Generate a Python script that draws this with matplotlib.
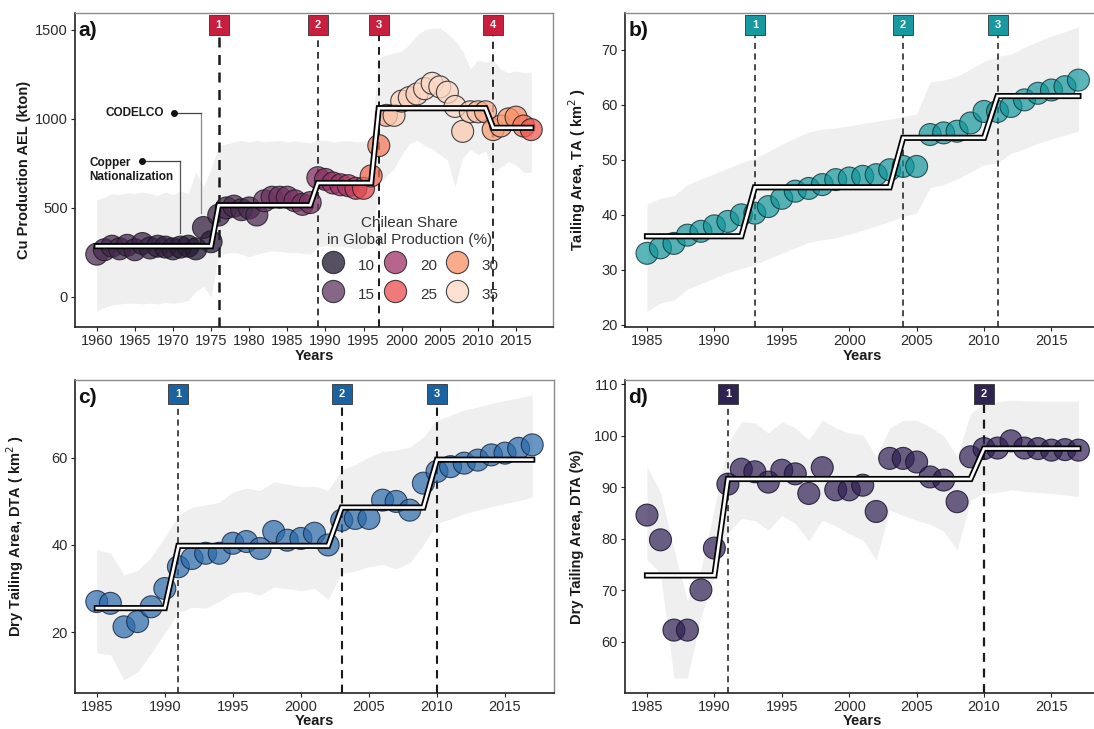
import numpy as np
import matplotlib
matplotlib.use('Agg')
import matplotlib.pyplot as plt
from matplotlib.colors import LinearSegmentedColormap, to_rgba
from matplotlib.lines import Line2D
import matplotlib.transforms as mtransforms

plt.rcParams['font.family'] = ['Liberation Sans', 'DejaVu Sans']

# ---------------- data ----------------
years_a = list(range(1960, 2018))
aer_a = [240, 265, 285, 270, 290, 265, 300, 275, 285, 280,
         270, 280, 285, 270, 390, 310, 460, 500, 510, 490,
         500, 460, 540, 560, 560, 560, 540, 520, 530, 670,
         660, 640, 630, 625, 610, 610, 680, 850, 1020, 1020,
         1100, 1120, 1140, 1170, 1200, 1180, 1150, 1070, 930, 1040,
         1040, 1040, 940, 960, 1000, 1010, 960, 940]
share_a = [14, 13.5, 13, 13, 13, 12.5, 12.5, 12, 12, 11.5,
           11.5, 11, 11, 10.5, 12, 11, 13, 13.5, 13.5, 13.5,
           13.5, 14, 15.5, 16, 16.5, 16.5, 17, 17, 17, 18,
           18.5, 19.5, 20, 21, 22, 24.5, 27, 28.5, 32, 34,
           34.5, 34.5, 34.5, 35.5, 37, 36, 35.5, 35.5, 34, 34,
           33.5, 32, 31, 31, 31, 30, 28, 26]
lo_a = [-80, -60, -45, -40, -35, -35, -40, -35, -40, -30,
        -35, -30, -20, 30, 60, 0, 240, 245, 250, 240,
        225, 240, 250, 260, 255, 250, 250, 245, 240, 280,
        290, 280, 285, 280, 270, 275, 300, 620, 680, 720,
        800, 860, 880, 850, 830, 800, 770, 620, 780, 830,
        800, 820, 700, 730, 760, 740, 700, 700]
hi_a = [545, 560, 580, 575, 585, 580, 590, 580, 570, 590,
        575, 595, 580, 700, 620, 720, 850, 860, 870, 880,
        870, 880, 870, 875, 880, 870, 875, 870, 865, 880,
        880, 870, 875, 880, 870, 875, 880, 1340, 1360, 1370,
        1380, 1420, 1470, 1500, 1510, 1510, 1480, 1440, 1380, 1280,
        1330, 1320, 1330, 1280, 1260, 1270, 1260, 1265]
breaks_a = [1976, 1989, 1997, 2012]
levels_a = [285, 515, 640, 1060, 950]

years_bcd = list(range(1985, 2018))
ta_b = [33, 34, 34.8, 36.3, 37, 38, 38.8, 40, 40.3, 41.5,
        43, 44.3, 44.8, 45.5, 46.4, 46.7, 47.0, 47.3, 48.2, 48.8,
        48.8, 54.6, 54.9, 55.2, 56.7, 58.8, 58.8, 59.7, 60.9, 62.1,
        62.7, 63.3, 64.5]
lo_b = [22.4, 24, 24.5, 26.5, 27.5, 28.5, 29.5, 30.2, 31, 32,
        33, 34, 35, 35.5, 35.8, 36.5, 37.2, 38, 38.8, 39.7,
        40.3, 44.9, 45.5, 46.5, 47.8, 49.1, 49.4, 51.2, 52, 53,
        53.8, 54.5, 55.2]
hi_b = [42, 43, 43.5, 45.5, 46.5, 47.5, 48.5, 49.5, 50.3, 51.5,
        52.8, 54, 55, 55.6, 55.8, 56.2, 56.6, 57, 57.4, 57.9,
        58.3, 64.2, 64.5, 65.2, 66.5, 67.9, 68.8, 69.2, 70.5, 71.5,
        72.5, 73.3, 74.2]
breaks_b = [1993, 2004, 2011]
levels_b = [36.1, 45.0, 54.0, 61.6]

dta_c = [27.0, 26.6, 21.2, 22.4, 25.8, 30.0, 35.0, 36.9, 38.1, 38.1,
         40.4, 40.8, 39.2, 43.1, 41.1, 41.5, 42.7, 40.0, 45.7, 46.1,
         46.1, 50.3, 50.0, 48.0, 54.2, 56.9, 58.0, 58.8, 59.5, 60.7,
         61.1, 62.2, 63.0]
lo_c = [15.2, 14.8, 9, 10.8, 15.2, 19.8, 24.5, 25.7, 25.5, 27,
        29, 29.3, 28.5, 30.3, 30, 29.5, 30, 27.5, 33.5, 34,
        35, 35.5, 34.5, 35.9, 40, 45, 46, 47.2, 48, 48.8,
        49.5, 50.2, 51]
hi_c = [38.9, 38.2, 33.1, 34.2, 37.2, 41.8, 46.9, 48.7, 49.2, 49.8,
        52.2, 53.1, 52.5, 54.5, 54, 53.4, 53.5, 52.6, 57.2, 58.5,
        60.2, 61.5, 61.8, 62.5, 64.8, 68.7, 69.8, 71, 71.7, 72.5,
        73.2, 73.8, 74.5]
breaks_c = [1991, 2003, 2010]
levels_c = [25.5, 39.8, 48.6, 59.6]

dta_d = [84.6, 79.8, 62.3, 62.3, 70.1, 78.2, 90.6, 93.5, 93.0, 91.0,
         93.3, 92.6, 88.8, 93.8, 89.5, 89.5, 90.4, 85.3, 95.6, 95.6,
         94.9, 92.0, 91.4, 87.2, 95.9, 97.5, 97.6, 99.0, 97.6, 97.5,
         97.2, 97.3, 97.2]
lo_d = [75.9, 73.3, 53, 53, 64.9, 72.7, 81.1, 84, 83.5, 81.7,
        84.5, 83, 79.6, 83.6, 82.5, 81, 79.8, 75.9, 85.6, 84.5,
        83.6, 82.8, 81.5, 77.8, 87.5, 88.8, 89, 89.5, 89.2, 89,
        88.8, 88.5, 88.2]
hi_d = [94, 89, 78, 68, 74, 86, 98.5, 102.7, 102.5, 100.5,
        102.7, 101.5, 99.2, 103, 101.5, 100.5, 100.2, 95.9, 101.5, 103,
        103, 101.7, 100, 95.9, 104.3, 106.3, 106.6, 106.9, 106.8, 106.7,
        106.7, 106.7, 106.7]
breaks_d = [1991, 2010]
levels_d = [72.9, 91.6, 97.5]

legend_shares = [10, 15, 20, 25, 30, 35]

# ---------------- helpers ----------------
share_cmap = LinearSegmentedColormap.from_list(
    'share', [(0.0, '#1d152e'), (0.2, '#5e3460'), (0.4, '#9f3166'),
              (0.6, '#ec4c4c'), (0.8, '#f78f64'), (1.0, '#fcd8c4')])


def share_color(v, alpha=0.75):
    r, g, b, _ = share_cmap((v - 10) / 25.0)
    return (r, g, b, alpha)


def fit_series(years, breaks, levels):
    out = []
    for y in years:
        idx = sum(1 for b in breaks if y >= b)
        out.append(levels[idx])
    return out


W, H = 1094, 729
fig = plt.figure(figsize=(W / 100, H / 100), dpi=100)


def px_rect(l, t, r, b):
    return [l / W, 1 - b / H, (r - l) / W, (b - t) / H]


def make_panel(rect, years, vals, lo, hi, breaks, levels, box_col, fcols,
               xlim, ylim, xticks, yticks, ylabel, letter, ylab_x, xlab_y,
               box_y, dash_lws, ecol):
    ax = fig.add_axes(rect)
    ax.fill_between(years, lo, hi, color='#EFEFEF', lw=0, zorder=0)
    trans = mtransforms.blended_transform_factory(ax.transData, ax.transAxes)
    for i, (bk, lw) in enumerate(zip(breaks, dash_lws)):
        ax.plot([bk, bk], [0, box_y], transform=trans, color='#1a1a1a',
                lw=lw, ls=(0, (4, 3)), zorder=2)
        ax.plot([bk], [box_y], transform=trans, marker='s', ms=14,
                mfc=box_col, mec='#333333', mew=0.6, clip_on=False, zorder=10)
        ax.text(bk, box_y, str(i + 1), transform=trans, color='white',
                fontsize=8, fontweight='bold', ha='center', va='center',
                zorder=11)
    ax.scatter(years, vals, s=250, c=fcols, edgecolors=ecol,
               linewidths=0.8, zorder=3)
    fit = fit_series(years, breaks, levels)
    ax.plot(years, fit, color='black', lw=4.4, zorder=5,
            solid_joinstyle='miter')
    ax.plot(years, fit, color='white', lw=1.9, zorder=6,
            solid_joinstyle='miter')
    ax.set_xlim(*xlim)
    ax.set_ylim(*ylim)
    ax.set_xticks(xticks)
    ax.set_yticks(yticks)
    for s in ['top', 'right']:
        ax.spines[s].set_color('#8a8a8a')
        ax.spines[s].set_linewidth(1.0)
    for s in ['left', 'bottom']:
        ax.spines[s].set_color('#222222')
        ax.spines[s].set_linewidth(1.2)
    ax.tick_params(axis='both', length=3, width=0.8, colors='#222222',
                   labelsize=10.5, labelcolor='#2a2a2a', pad=2)
    ax.set_ylabel(ylabel, fontsize=10.5, fontweight='bold', color='#1a1a1a')
    ax.yaxis.set_label_coords(ylab_x, 0.5)
    ax.set_xlabel('Years', fontsize=10.5, fontweight='bold', color='#1a1a1a')
    ax.xaxis.set_label_coords(0.5, xlab_y)
    ax.text(0.007, 0.945, letter, transform=ax.transAxes, fontsize=15,
            fontweight='bold', ha='left', va='center', color='#111111',
            zorder=12)
    return ax


# ---------------- panel a ----------------
ax_a = make_panel(px_rect(75, 13, 553, 327), years_a, aer_a, lo_a, hi_a,
                  breaks_a, levels_a, '#c91f3e',
                  [share_color(v) for v in share_a],
                  (1957.15, 2019.85), (-169, 1595),
                  list(range(1960, 2020, 5)), [0, 500, 1000, 1500],
                  'Cu Production AEL (kton)', 'a)', -0.092, -0.07, 0.962,
                  [1.8, 1.2, 1.4, 1.3], (0.1, 0.1, 0.12, 0.8))

# annotations
ax_a.plot([1973.7, 1973.7], [1034, 472], color='#8a8a8a', lw=0.9, zorder=2)
ax_a.plot([1970.1, 1973.7], [1034, 1034], color='#444444', lw=0.9, zorder=2)
ax_a.plot([1970.1], [1034], 'o', color='#111111', ms=4, zorder=7)
ax_a.text(1968.8, 1034, 'CODELCO', fontsize=8.5, fontweight='bold',
          ha='right', va='center', color='#1a1a1a')
ax_a.plot([1970.9, 1970.9], [764, 360], color='#555555', lw=0.9, zorder=2)
ax_a.plot([1966.0, 1970.9], [764, 764], color='#444444', lw=0.9, zorder=2)
ax_a.plot([1966.0], [764], 'o', color='#111111', ms=4, zorder=7)
ax_a.text(1959.0, 713, 'Copper\nNationalization', fontsize=8.5,
          fontweight='bold', ha='left', va='center', color='#1a1a1a',
          linespacing=1.25)

handles = [Line2D([], [], ls='', marker='o', ms=16,
                  mfc=share_color(v), mec=(0.1, 0.1, 0.12, 0.8), mew=0.8)
           for v in legend_shares]
leg = ax_a.legend(handles, [str(v) for v in legend_shares], ncol=3,
                  title='Chilean Share\nin Global Production (%)',
                  loc='upper center', bbox_to_anchor=(0.70, 0.372),
                  frameon=False, fontsize=11, title_fontsize=11,
                  handletextpad=0.85, columnspacing=0.5, labelspacing=0.5,
                  handleheight=1.8, borderaxespad=0, handlelength=1.6)
leg.get_title().set_color('#333333')
leg.get_title().set_multialignment('center')
for t in leg.get_texts():
    t.set_color('#333333')

# ---------------- panel b ----------------
make_panel(px_rect(625, 13, 1100, 327), years_bcd, ta_b, lo_b, hi_b,
           breaks_b, levels_b, '#17999f', [(0.055, 0.58, 0.6, 0.68)] * 33,
           (1983.37, 2018.6), (19.6, 76.7),
           list(range(1985, 2020, 5)), list(range(20, 80, 10)),
           r'Tailing Area, TA ( km$^2$ )', 'b)', -0.078, -0.07, 0.962,
           [1.1, 1.1, 1.1], (0.05, 0.2, 0.22, 0.8))

# ---------------- panel c ----------------
make_panel(px_rect(75, 380, 554, 693), years_bcd, dta_c, lo_c, hi_c,
           breaks_c, levels_c, '#1a62a0', [(0.165, 0.415, 0.67, 0.7)] * 33,
           (1983.4, 2018.6), (6, 77.9),
           list(range(1985, 2020, 5)), [20, 40, 60],
           r'Dry Tailing Area, DTA ( km$^2$ )', 'c)', -0.102, -0.068, 0.955,
           [1.1, 1.5, 1.5], (0.08, 0.14, 0.24, 0.8))

# ---------------- panel d ----------------
make_panel(px_rect(625, 380, 1100, 693), years_bcd, dta_d, lo_d, hi_d,
           breaks_d, levels_d, '#2f2352', [(0.19, 0.12, 0.33, 0.7)] * 33,
           (1983.37, 2018.6), (50.1, 110.8),
           list(range(1985, 2020, 5)), list(range(60, 120, 10)),
           'Dry Tailing Area, DTA (%)', 'd)', -0.087, -0.068, 0.955,
           [1.1, 1.6], (0.1, 0.08, 0.18, 0.85))

fig.savefig('out.png', dpi=100)
